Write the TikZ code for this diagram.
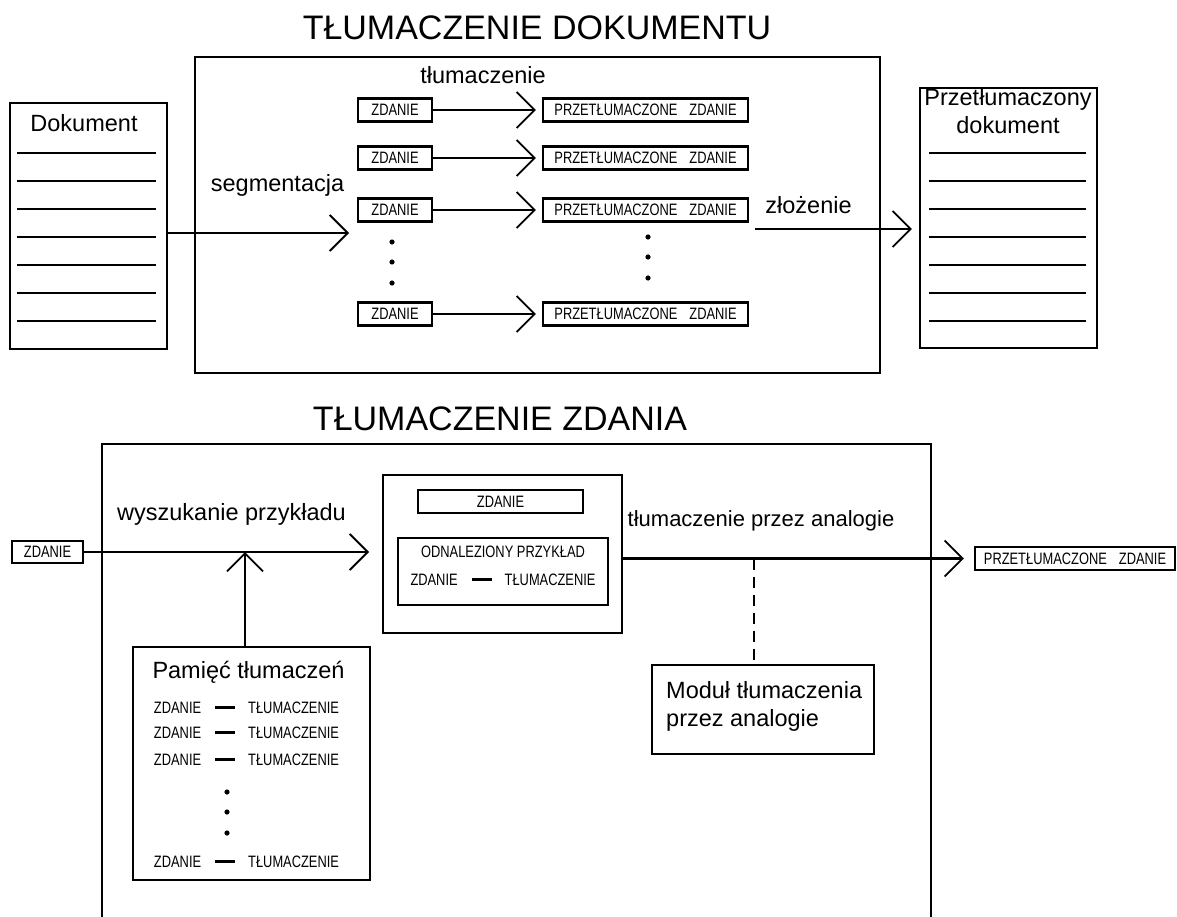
\documentclass[tikz,border=0pt]{standalone}
\usepackage{fontspec}
\setmainfont{Liberation Sans}
\newfontfamily\waska[FakeStretch=0.78]{Liberation Sans}
\usetikzlibrary{arrows.meta}

\tikzset{
  ramka/.style={draw, line width=2.4pt, inner sep=0pt},
  maly/.style={font=\waska\fontsize{16.5}{18}\selectfont, inner sep=0pt},
  opis/.style={font=\fontsize{23.5}{28.5}\selectfont, inner sep=0pt},
  tytul/.style={font=\fontsize{34}{40}\selectfont, inner sep=0pt},
  strzalka/.style={line width=2.4pt, -{Straight Barb[length=18pt,width=36pt,line width=1.8pt]}},
  przerywana/.style={line width=2.4pt, dash pattern=on 11pt off 7pt},
}
\newcommand{\kreska}{\hspace{14pt}\rule[5pt]{20pt}{2.4pt}\hspace{13pt}}

\begin{document}
\begin{tikzpicture}[x=1pt,y=-1pt]
  \useasboundingbox (0,0) rectangle (1177,917);

  % Tlumaczenie dokumentu
  \node[tytul, anchor=base] (tytul1) at (537,40) {TŁUMACZENIE DOKUMENTU};
  \node[ramka, minimum width=685pt, minimum height=316pt] (tdok) at (537.5,215) {};

  % Dokument
  \node[ramka, minimum width=157pt, minimum height=246pt] (dokL) at (88.5,226) {};
  \node[opis, anchor=base] (dokLt) at (84,132) {Dokument};
  \foreach \y in {153,181,...,321}
    \draw[line width=2.4pt] (17,\y) -- (156,\y);

  \coordinate (seg) at (349,233);
  \draw[strzalka] (dokL.east |- seg) -- (seg);
  \node[opis, anchor=base] (segt) at (277.5,192) {segmentacja};

  % Zdania
  \foreach \n/\y in {1/110,2/158,3/210,4/314}{
    \node[ramka, maly, minimum width=74pt, minimum height=23pt] (zd\n) at (395,\y) {ZDANIE};
    \node[ramka, maly, minimum width=205pt, minimum height=23pt] (pz\n) at (645.5,\y) {PRZETŁUMACZONE\hspace{12pt}ZDANIE};
    \draw[strzalka, shorten >=6pt] (zd\n) -- (pz\n);
  }
  \node[opis, anchor=base] (tlt) at (483,84) {tłumaczenie};
  \foreach \y in {242,262,283}
    \fill (392,\y) circle (2.6pt);
  \foreach \y in {237,257,278}
    \fill (648,\y) circle (2.6pt);

  % Przetlumaczony dokument
  \node[ramka, minimum width=177pt, minimum height=260pt] (dokR) at (1008.5,218) {};
  \node[opis, anchor=north, align=center] (dokRt) at (1008,88) {Przetłumaczony\\dokument};
  \foreach \y in {153,181,...,321}
    \draw[line width=2.4pt] (929,\y) -- (1086,\y);

  \coordinate (zl) at (755,229);
  \draw[strzalka, shorten >=7pt] (zl) -- (zl -| dokR.west);
  \node[opis, anchor=base] (zlt) at (808.5,214) {złożenie};

  % Tlumaczenie zdania
  \node[tytul, anchor=base] (tytul2) at (500,430) {TŁUMACZENIE ZDANIA};
  \node[ramka, minimum width=829pt, minimum height=486pt] (tzd) at (516.5,687) {};

  \node[ramka, maly, minimum width=71pt, minimum height=22pt] (zdWe) at (47.5,552) {ZDANIE};
  \coordinate (wysz) at (369,552);
  \draw[strzalka] (zdWe.east) -- (wysz);
  \node[opis, anchor=base] (wyszt) at (231.5,520) {wyszukanie przykładu};

  % Pamiec tlumaczen
  \node[ramka, minimum width=237pt, minimum height=233pt] (pam) at (251.5,763.5) {};
  \node[opis, anchor=base] (pamt) at (248.5,678) {Pamięć tłumaczeń};
  \foreach \n/\y in {1/708,2/733,3/760,4/862}
    \node[maly] (pp\n) at (246.5,\y) {ZDANIE\kreska TŁUMACZENIE};
  \foreach \y in {792,812,833}
    \fill (227,\y) circle (2.6pt);
  \coordinate (pw) at (245,552);
  \draw[strzalka] (pam.north -| pw) -- (pw);

  % Odnaleziony przyklad
  \node[ramka, minimum width=239pt, minimum height=158pt] (ex) at (502.5,554) {};
  \node[ramka, maly, minimum width=165pt, minimum height=23pt] (zd5) at (500.5,501.5) {ZDANIE};
  \node[ramka, minimum width=210pt, minimum height=67pt] (odn) at (503,571.5) {};
  \node[maly] (odnt) at (503,552) {ODNALEZIONY PRZYKŁAD};
  \node[maly] (odnp) at (503,580) {ZDANIE\kreska TŁUMACZENIE};

  % Wyjscie
  \node[ramka, maly, minimum width=200pt, minimum height=23pt] (wyj) at (1075,558.5) {PRZETŁUMACZONE\hspace{12pt}ZDANIE};
  \draw[strzalka, shorten >=10pt] (ex.east |- wyj.west) -- (wyj.west);
  \node[opis, font=\fontsize{22}{26}\selectfont, anchor=base] (ant) at (761,526) {tłumaczenie przez analogie};

  % Modul
  \node[ramka, minimum width=222pt, minimum height=89pt] (mod) at (763,709.5) {};
  \node[opis, anchor=north west, align=left] (modt) at (666,681) {Moduł tłumaczenia\\przez analogie};
  \coordinate (kr) at (754,558.5);
  \draw[przerywana] (kr) -- (kr |- mod.north);
\end{tikzpicture}
\end{document}
